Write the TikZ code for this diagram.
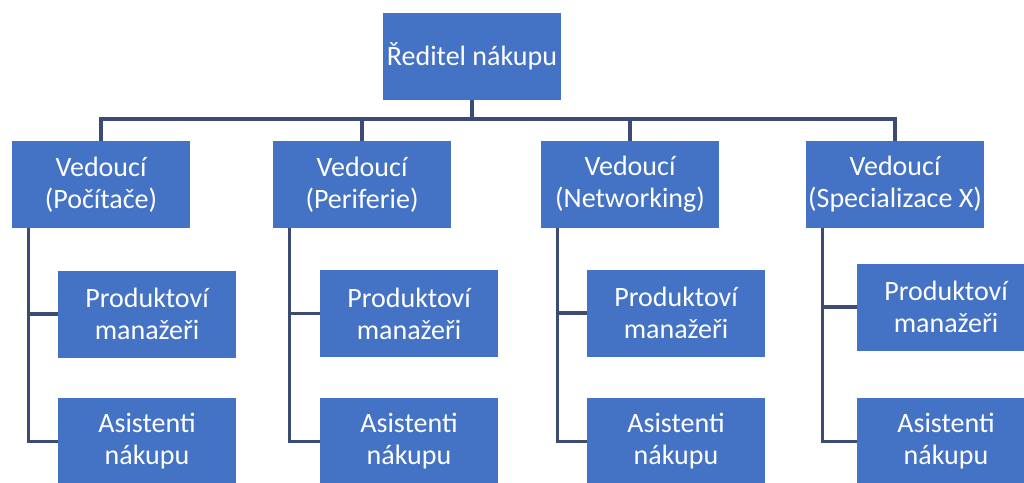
\documentclass[tikz,border=0pt]{standalone}
\usepackage{fontspec}
\setmainfont{Carlito}
\definecolor{boxblue}{HTML}{4472C4}
\definecolor{linkblue}{HTML}{3A4C74}
\begin{document}
\begin{tikzpicture}[x=1pt,y=-1pt,
  orgbox/.style={rectangle, fill=boxblue, text=white, minimum width=178pt,
    minimum height=87pt, inner sep=0pt, align=center,
    font=\fontsize{28pt}{32pt}\selectfont},
  link/.style={draw=linkblue, line width=3.2pt}]
\clip (0,0) rectangle (1024,482);
\fill[white] (0,0) rectangle (1024,482);

% director
\node[orgbox] (top) at (472,56.5) {Ředitel nákupu};

% heads of department
\node[orgbox] (b1) at (101,184.5) {Vedoucí\\(Počítače)};
\node[orgbox] (b2) at (362,184.5) {Vedoucí\\(Periferie)};
\node[orgbox] (b3) at (630,184.5) {Vedoucí\\(Networking)};
\node[orgbox] (b4) at (895,184.5) {Vedoucí\\(Specializace X)};

% staff under each head
\node[orgbox] (c1a) at (147,314) {Produktoví\\manažeři};
\node[orgbox] (c1b) at (147,441.5) {Asistenti\\nákupu};
\node[orgbox] (c2a) at (409,313.5) {Produktoví\\manažeři};
\node[orgbox] (c2b) at (409,441.5) {Asistenti\\nákupu};
\node[orgbox] (c3a) at (676,313) {Produktoví\\manažeři};
\node[orgbox] (c3b) at (676,441.5) {Asistenti\\nákupu};
\node[orgbox] (c4a) at (946,307) {Produktoví\\manažeři};
\node[orgbox] (c4b) at (946,441.5) {Asistenti\\nákupu};

% bus from the director to the heads
\coordinate (bus) at (0,119);
\draw[link] (top.south) -- (top.south |- bus);
\draw[link] (b1.north) -- (b1.north |- bus) -- (b4.north |- bus) -- (b4.north);
\draw[link] (b2.north) -- (b2.north |- bus);
\draw[link] (b3.north) -- (b3.north |- bus);

% side rails from each head to its staff
\foreach \h/\a/\b in {b1/c1a/c1b, b2/c2a/c2b, b3/c3a/c3b, b4/c4a/c4b}{
  \coordinate (rail) at ([xshift=17pt]\h.south west);
  \draw[link] (rail) |- (\b.west);
  \draw[link] (rail |- \a.west) -- (\a.west);
}
\end{tikzpicture}
\end{document}
